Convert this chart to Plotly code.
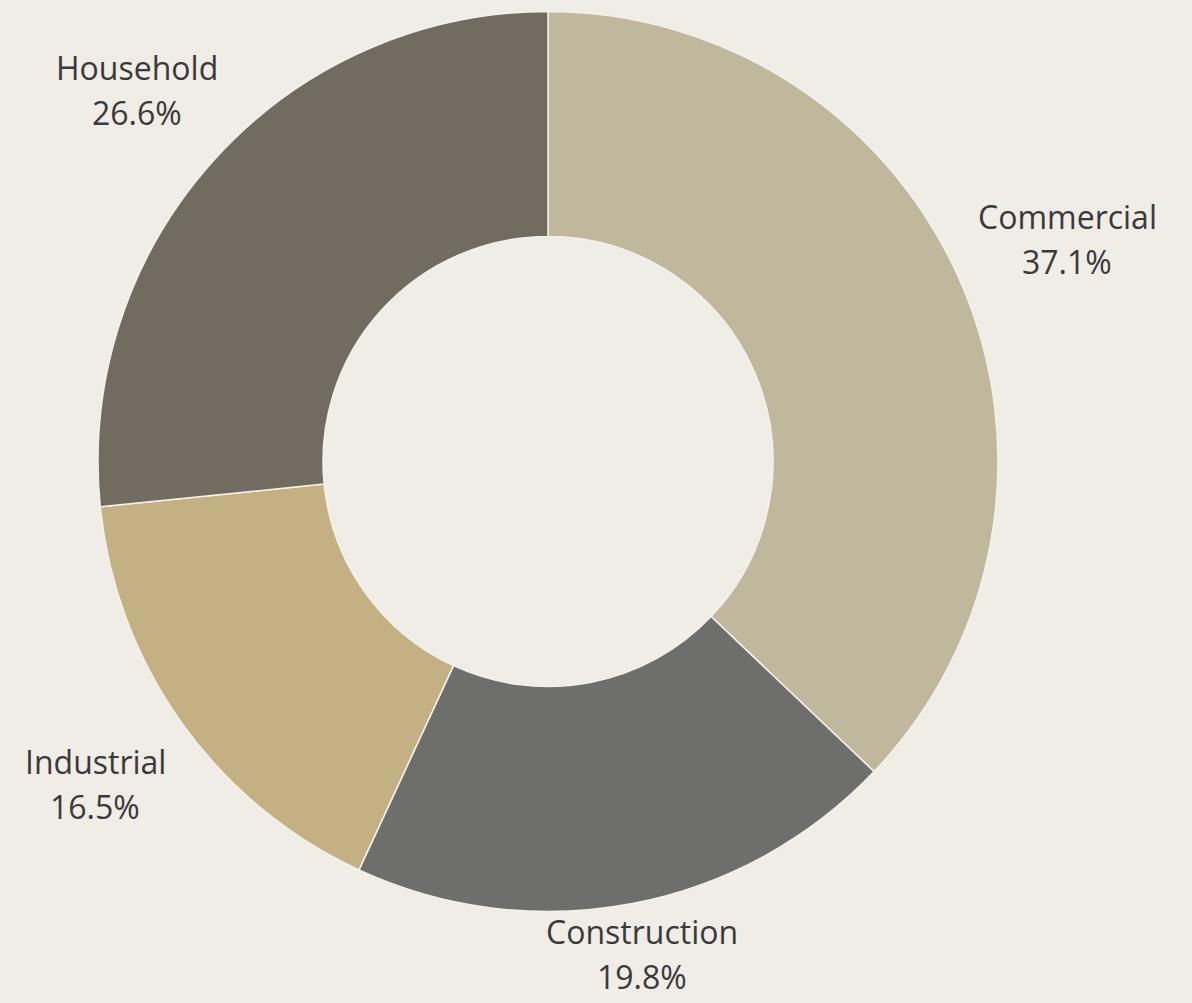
import math
import plotly.graph_objects as go

# ---- data ----
categories = ["Commercial", "Construction", "Industrial", "Household"]
shares = [37.1, 19.8, 16.5, 26.6]

# ---- style ----
colors = ["#BFB89C", "#6E6E6C", "#C4B183", "#716C5F"]
bg = "#F0ECE6"
W, H = 1192, 1003
CX, CY, R = 548.0, 461.5, 450.0          # pie centre / radius in pixels
label_dist = [1.255, 1.115, 1.235, 1.23]  # label distance as multiple of radius
font = dict(family="Open Sans, Liberation Sans, sans-serif", size=32, color="#3A3A3A")
line_gap = 45

fig = go.Figure(go.Pie(
    labels=categories,
    values=shares,
    sort=False,
    direction="clockwise",
    rotation=0,
    hole=0.5,
    marker=dict(colors=colors, line=dict(color="#F4F1EC", width=1.5)),
    textinfo="none",
    hoverinfo="label+percent",
    showlegend=False,
    domain=dict(x=[(CX - R) / W, (CX + R) / W], y=[1 - (CY + R) / H, 1 - (CY - R) / H]),
))

# labels placed along each slice's middle angle (derived from the data)
total = sum(shares)
cum = 0.0
for cat, v, k in zip(categories, shares, label_dist):
    mid = (cum + v / 2) / total * 2 * math.pi
    cum += v
    px = CX + k * R * math.sin(mid)
    py = CY - k * R * math.cos(mid)
    for txt, dy in ((cat, -line_gap / 2), (f"{v:.1f}%", line_gap / 2)):
        fig.add_annotation(x=px / W, y=1 - (py + dy) / H, xref="paper", yref="paper",
                           text=txt, showarrow=False, font=font,
                           xanchor="center", yanchor="middle")

fig.update_layout(
    width=W, height=H,
    margin=dict(l=0, r=0, t=0, b=0),
    paper_bgcolor=bg, plot_bgcolor=bg,
)

fig.write_html("out.html")
